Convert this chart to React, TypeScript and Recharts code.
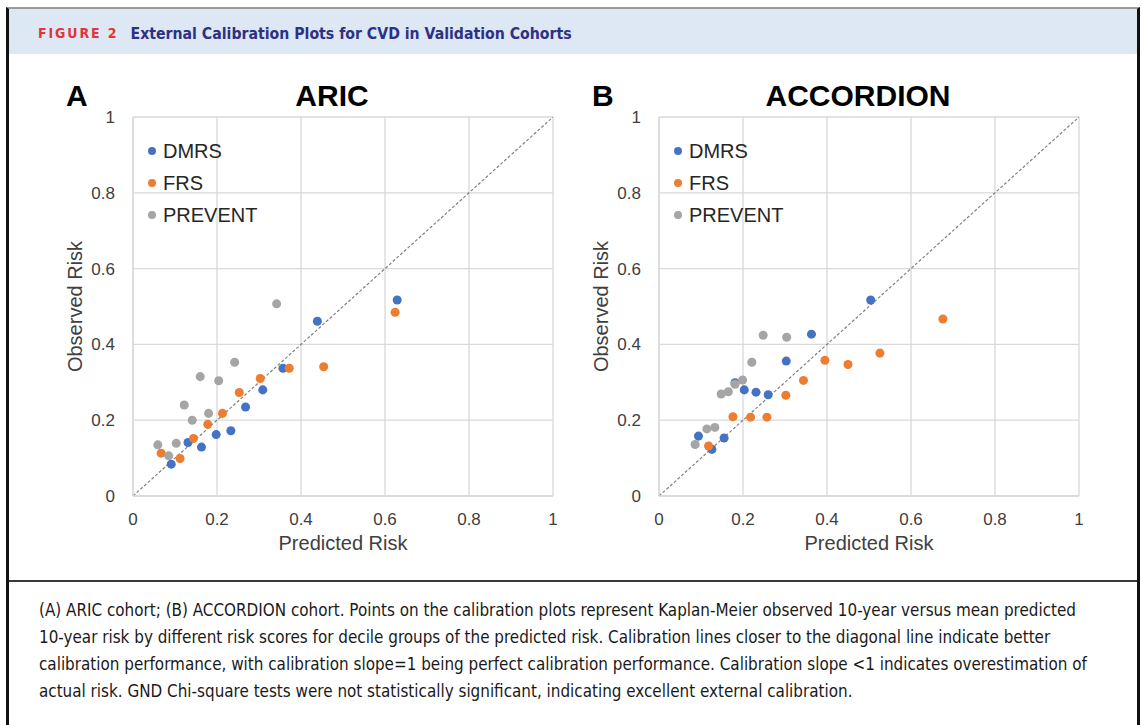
import {
    ScatterChart,
    Scatter,
    XAxis,
    YAxis,
    ZAxis,
    CartesianGrid,
    ReferenceLine,
} from "recharts";

const TICKS = [0, 0.2, 0.4, 0.6, 0.8, 1];
const SERIES_NAMES = ["DMRS", "FRS", "PREVENT"];
const COLORS: Record<string, string> = {
    DMRS: "#4472C4", // azul
    FRS: "#ED7D31", // naranja
    PREVENT: "#A5A5A5", // gris
};

// ARIC (predicted, observed)
const aricDmrsPred = [0.091, 0.131, 0.163, 0.198, 0.233, 0.268, 0.309, 0.357, 0.439, 0.629];
const aricDmrsObs = [0.084, 0.141, 0.129, 0.162, 0.172, 0.235, 0.28, 0.337, 0.461, 0.517];
const aricFrsPred = [0.067, 0.112, 0.144, 0.178, 0.213, 0.253, 0.303, 0.372, 0.454, 0.624];
const aricFrsObs = [0.113, 0.099, 0.152, 0.189, 0.218, 0.273, 0.31, 0.337, 0.341, 0.485];
const aricPreventPred = [0.059, 0.085, 0.103, 0.122, 0.141, 0.16, 0.18, 0.204, 0.242, 0.342];
const aricPreventObs = [0.135, 0.106, 0.139, 0.24, 0.2, 0.315, 0.218, 0.304, 0.353, 0.507];

// ACCORDION (predicted, observed)
const accDmrsPred = [0.094, 0.126, 0.155, 0.181, 0.203, 0.231, 0.26, 0.303, 0.363, 0.504];
const accDmrsObs = [0.158, 0.123, 0.153, 0.299, 0.28, 0.274, 0.267, 0.356, 0.427, 0.517];
const accFrsPred = [0.118, 0.176, 0.218, 0.257, 0.302, 0.344, 0.395, 0.45, 0.526, 0.676];
const accFrsObs = [0.132, 0.209, 0.208, 0.208, 0.266, 0.305, 0.358, 0.347, 0.377, 0.467];
const accPreventPred = [0.086, 0.114, 0.133, 0.148, 0.165, 0.181, 0.199, 0.221, 0.248, 0.304];
const accPreventObs = [0.136, 0.177, 0.181, 0.269, 0.275, 0.295, 0.306, 0.353, 0.424, 0.419];

const CAPTION_LINES = [
    "(A) ARIC cohort; (B) ACCORDION cohort. Points on the calibration plots represent Kaplan-Meier observed 10-year versus mean predicted",
    "10-year risk by different risk scores for decile groups of the predicted risk. Calibration lines closer to the diagonal line indicate better",
    "calibration performance, with calibration slope=1 being perfect calibration performance. Calibration slope <1 indicates overestimation of",
    "actual risk. GND Chi-square tests were not statistically significant, indicating excellent external calibration.",
];

const toPoints = (xs: number[], ys: number[]) => xs.map((x, i) => ({ pred: x, obs: ys[i] }));

const FONT = "'Liberation Sans', Arial, sans-serif";

type PanelProps = {
    letter: string;
    title: string;
    left: number;
    series: { name: string; data: { pred: number; obs: number }[] }[];
};

function CalibrationPanel({ letter, title, left, series }: PanelProps) {
    return (
        <div style={{ position: "absolute", left, top: 0, width: 580, height: 580, fontFamily: FONT }}>
            <ScatterChart width={580} height={580} margin={{ top: 117, right: 27, bottom: 24, left: 63 }}>
                <CartesianGrid stroke="#d9d9d9" strokeWidth={1.3} />
                <XAxis
                    type="number"
                    dataKey="pred"
                    domain={[0, 1]}
                    ticks={TICKS}
                    height={60}
                    tickSize={0}
                    tickMargin={17}
                    axisLine={{ stroke: "#d9d9d9", strokeWidth: 1.3 }}
                    tick={{ fill: "#404040", fontSize: 17, fontFamily: FONT }}
                    label={{ value: "Predicted Risk", position: "insideBottom", offset: 6, fill: "#404040", fontSize: 20, fontFamily: FONT }}
                />
                <YAxis
                    type="number"
                    dataKey="obs"
                    domain={[0, 1]}
                    ticks={TICKS}
                    width={70}
                    tickSize={0}
                    tickMargin={18}
                    axisLine={{ stroke: "#d9d9d9", strokeWidth: 1.3 }}
                    tick={{ fill: "#404040", fontSize: 17, fontFamily: FONT }}
                    label={{ value: "Observed Risk", angle: -90, position: "insideLeft", offset: 12, fill: "#404040", fontSize: 20, fontFamily: FONT, style: { textAnchor: "middle" } }}
                />
                <ZAxis range={[95, 95]} />
                <ReferenceLine
                    segment={[{ x: 0, y: 0 }, { x: 1, y: 1 }]}
                    stroke="#808080"
                    strokeWidth={1.2}
                    strokeDasharray="3 2"
                />
                {series.map((s) => (
                    <Scatter key={s.name} name={s.name} data={s.data} fill={COLORS[s.name]} isAnimationActive={false} />
                ))}
            </ScatterChart>
            <div style={{ position: "absolute", left: 66, top: 79, fontSize: 30, fontWeight: "bold", color: "#000" }}>{letter}</div>
            <div style={{ position: "absolute", left: 122, width: 420, top: 79, textAlign: "center", fontSize: 30, fontWeight: "bold", color: "#000" }}>
                {title}
            </div>
            {SERIES_NAMES.map((name, i) => (
                <div key={name} style={{ position: "absolute", left: 148, top: 151 + i * 32 - 12, height: 24, display: "flex", alignItems: "center" }}>
                    <span style={{ width: 8, height: 8, borderRadius: 4, background: COLORS[name], display: "inline-block", marginRight: 7 }} />
                    <span style={{ fontSize: 20, color: "#262626" }}>{name}</span>
                </div>
            ))}
        </div>
    );
}

export default function App() {
    const aric = [
        { name: "DMRS", data: toPoints(aricDmrsPred, aricDmrsObs) },
        { name: "FRS", data: toPoints(aricFrsPred, aricFrsObs) },
        { name: "PREVENT", data: toPoints(aricPreventPred, aricPreventObs) },
    ];
    const accordion = [
        { name: "DMRS", data: toPoints(accDmrsPred, accDmrsObs) },
        { name: "FRS", data: toPoints(accFrsPred, accFrsObs) },
        { name: "PREVENT", data: toPoints(accPreventPred, accPreventObs) },
    ];

    return (
        <div style={{ position: "absolute", left: 0, top: 0, width: 1142, height: 725, background: "#fff", overflow: "hidden" }}>
            {/* marco */}
            <div
                style={{
                    position: "absolute",
                    left: 6,
                    top: 7,
                    width: 1128,
                    height: 730,
                    borderLeft: "3px solid #111",
                    borderRight: "3px solid #111",
                    borderTop: "2px solid #9a9a9a",
                }}
            />
            <div style={{ position: "absolute", left: 9, top: 9, width: 1128, height: 45, background: "#dde8f4" }} />
            <div
                style={{
                    position: "absolute",
                    left: 38,
                    top: 21,
                    height: 24,
                    display: "flex",
                    alignItems: "center",
                    whiteSpace: "nowrap",
                    fontFamily: "'DejaVu Sans Condensed', 'DejaVu Sans', sans-serif",
                    fontStretch: "condensed",
                    fontWeight: "bold",
                }}
            >
                <span style={{ color: "#e3343b", fontSize: 14, letterSpacing: 1.9, fontFamily: "'DejaVu Sans', sans-serif", marginRight: 12 }}>FIGURE 2</span>
                <span style={{ color: "#2d3185", fontSize: 15.7 }}>External Calibration Plots for CVD in Validation Cohorts</span>
            </div>

            <CalibrationPanel letter="A" title="ARIC" left={0} series={aric} />
            <CalibrationPanel letter="B" title="ACCORDION" left={526} series={accordion} />

            <div style={{ position: "absolute", left: 9, top: 580, width: 1128, height: 2, background: "#3a3a3a" }} />
            {CAPTION_LINES.map((line, i) => (
                <div
                    key={i}
                    style={{
                        position: "absolute",
                        left: 39,
                        top: 597 + i * 27,
                        height: 27,
                        lineHeight: "27px",
                        whiteSpace: "nowrap",
                        fontFamily: "'DejaVu Sans Condensed', 'DejaVu Sans', sans-serif",
                        fontStretch: "condensed",
                        fontSize: 16.9,
                        color: "#1a1a1a",
                    }}
                >
                    {line}
                </div>
            ))}
        </div>
    );
}
